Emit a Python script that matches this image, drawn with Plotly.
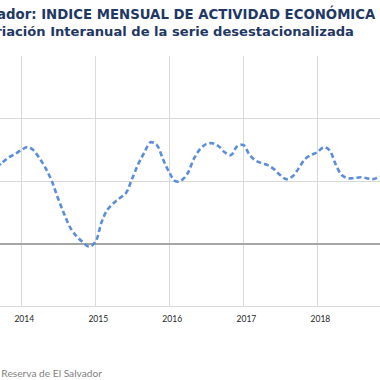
import plotly.graph_objects as go
import pandas as pd

# Monthly data: Sep 2013 .. Dec 2018 (year-on-year % variation, seasonally adjusted)
start_month = "2013-09-01"
values = [2.44, 2.60, 2.76, 2.86,
          2.99, 3.09, 2.99, 2.73, 2.41, 1.99, 1.45, 0.94, 0.49, 0.23, 0.04, -0.10,
          0.04, 0.68, 1.07, 1.29, 1.45, 1.61, 2.06, 2.54, 2.92, 3.24, 3.15, 2.70,
          2.28, 1.99, 2.02, 2.25, 2.70, 3.02, 3.18, 3.21, 3.11, 2.92, 2.83, 3.11,
          3.15, 2.83, 2.66, 2.57, 2.51, 2.38, 2.19, 2.06, 2.15, 2.41, 2.70, 2.83,
          2.92, 3.08, 2.99, 2.54, 2.19, 2.09, 2.09, 2.12, 2.09, 2.06, 2.12, 2.15]
dates = pd.date_range(start_month, periods=len(values), freq="MS")

year_ticks = ["2014-01-01", "2015-01-01", "2016-01-01", "2017-01-01", "2018-01-01"]
year_labels = ["2014", "2015", "2016", "2017", "2018"]

title_1 = "El Salvador: INDICE MENSUAL DE ACTIVIDAD ECONÓMICA"
title_2 = "Variación Interanual de la serie desestacionalizada"
source = "Fuente: Banco Central de Reserva de El Salvador"

W, H = 380, 380
top, bottom = 56, 306
ph = bottom - top

fig = go.Figure()
fig.add_trace(go.Scatter(
    x=dates, y=values, mode="lines",
    line=dict(color="#5b8ed8", width=2.6, dash="5px,3px", shape="spline", smoothing=1.0),
    hoverinfo="skip", showlegend=False))

fig.update_layout(
    width=W, height=H,
    margin=dict(l=0, r=0, t=top, b=H - bottom, pad=0),
    paper_bgcolor="white", plot_bgcolor="white",
    xaxis=dict(type="date", range=["2013-09-18", "2018-11-06"],
               tickvals=year_ticks, ticktext=year_labels,
               showgrid=True, gridcolor="#d9d9d9", gridwidth=1,
               showline=True, linecolor="#d9d9d9", linewidth=1,
               ticks="", ticklabelstandoff=5, ticklabelshift=3,
               tickfont=dict(family="Lato", size=8.5, color="#262626")),
    yaxis=dict(range=[-2, 6], dtick=2, showticklabels=False,
               showgrid=True, gridcolor="#d9d9d9", gridwidth=1,
               zeroline=True, zerolinecolor="#a6a6a6", zerolinewidth=2,
               showline=False, ticks=""),
)

def py(pix):
    return (bottom - pix) / ph

fig.add_annotation(text="<b>" + title_1 + "</b>", xref="paper", yref="paper",
                   x=378 / W, y=py(13), xanchor="right", yanchor="middle",
                   showarrow=False, font=dict(family="DejaVu Sans", size=13.3, color="#1f3864"))
fig.add_annotation(text="<b>" + title_2 + "</b>", xref="paper", yref="paper",
                   x=356 / W, y=py(32), xanchor="right", yanchor="middle",
                   showarrow=False, font=dict(family="DejaVu Sans", size=13.1, color="#1f3864"))
fig.add_annotation(text=source, xref="paper", yref="paper",
                   x=104 / W, y=py(373), xanchor="right", yanchor="middle",
                   showarrow=False, font=dict(family="Lato", size=10.2, color="#7f7f7f"))

fig.write_html("out.html", config={"displayModeBar": False},
               post_script="document.body.style.margin='0';document.body.style.overflow='hidden';")
